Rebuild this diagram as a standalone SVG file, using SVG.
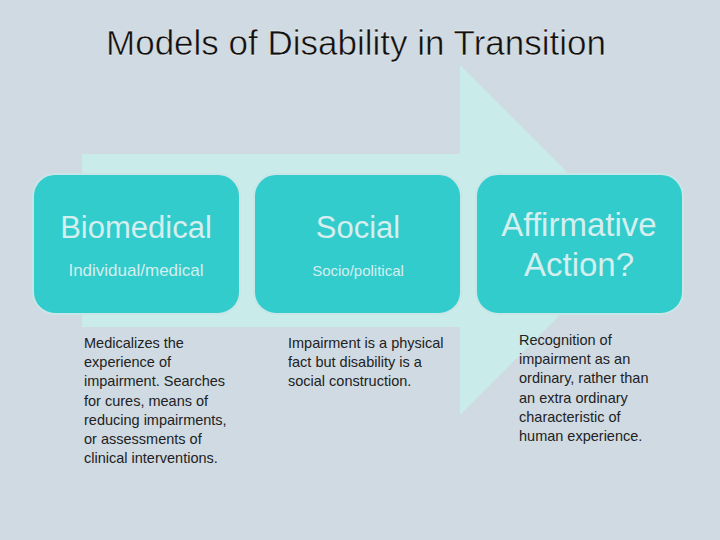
<svg xmlns="http://www.w3.org/2000/svg" width="720" height="540" viewBox="0 0 720 540">
<style>
.box{fill:#33cccc;stroke:#c8e6e8;stroke-width:2}
.h{font-family:"Liberation Sans",Arial,sans-serif;fill:#d5eeee;text-anchor:middle}
.d{font-family:"Liberation Sans",Arial,sans-serif;fill:#222;font-size:14.5px}
</style>
<rect width="720" height="540" fill="#cfdae2"/>
<text x="356" y="55" font-family="Liberation Sans,Arial,sans-serif" font-size="35" text-anchor="middle" fill="#111" stroke="#fff" stroke-width="0.4">Models of Disability in Transition</text>
<g id="connectors"><polygon points="82,154 460,154 460,65 635,240 460,415 460,327 82,327" fill="#c9ecea"/></g>
<g id="n1"><rect class="box" x="33" y="174" width="207" height="140" rx="22"/>
<text class="h" x="136" y="238" font-size="31">Biomedical</text>
<text class="h" x="136" y="276" font-size="17">Individual/medical</text>
<text class="d" y="348"><tspan x="84">Medicalizes the</tspan><tspan x="84" dy="19.2">experience of</tspan><tspan x="84" dy="19.2">impairment. Searches</tspan><tspan x="84" dy="19.2">for cures, means of</tspan><tspan x="84" dy="19.2">reducing impairments,</tspan><tspan x="84" dy="19.2">or assessments of</tspan><tspan x="84" dy="19.2">clinical interventions.</tspan></text></g>
<g id="n2"><rect class="box" x="254" y="174" width="207" height="140" rx="22"/>
<text class="h" x="358" y="238" font-size="31">Social</text>
<text class="h" x="358" y="276" font-size="15">Socio/political</text>
<text class="d" y="348"><tspan x="288">Impairment is a physical</tspan><tspan x="288" dy="19.2">fact but disability is a</tspan><tspan x="288" dy="19.2">social construction.</tspan></text></g>
<g id="n3"><rect class="box" x="476" y="174" width="207" height="140" rx="22"/>
<text class="h" x="579" y="236" font-size="33">Affirmative</text>
<text class="h" x="579" y="276" font-size="33">Action?</text>
<text class="d" y="345"><tspan x="519">Recognition of</tspan><tspan x="519" dy="19.2">impairment as an</tspan><tspan x="519" dy="19.2">ordinary, rather than</tspan><tspan x="519" dy="19.2">an extra ordinary</tspan><tspan x="519" dy="19.2">characteristic of</tspan><tspan x="519" dy="19.2">human experience.</tspan></text></g>
</svg>
